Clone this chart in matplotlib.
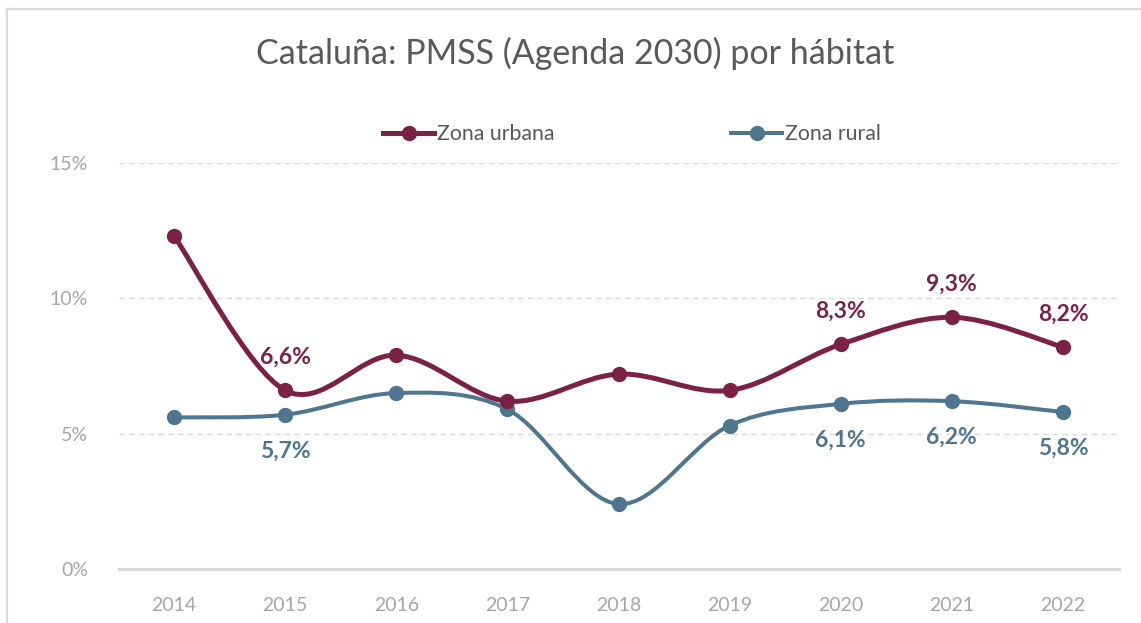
"""Cataluña: PMSS (Agenda 2030) por hábitat - smoothed line chart."""

import matplotlib

matplotlib.use("Agg")
import matplotlib.pyplot as plt
import numpy as np
from matplotlib.lines import Line2D
from matplotlib.patches import PathPatch
from matplotlib.path import Path
from matplotlib.ticker import FuncFormatter, MultipleLocator

years = ["2014", "2015", "2016", "2017", "2018", "2019", "2020", "2021", "2022"]
urbana = [12.3, 6.6, 7.9, 6.2, 7.2, 6.6, 8.3, 9.3, 8.2]
rural = [5.6, 5.7, 6.5, 5.9, 2.4, 5.3, 6.1, 6.2, 5.8]
# indices of points that carry a data label
urbana_labels = [1, 6, 7, 8]
rural_labels = [1, 6, 7, 8]

title = "Cataluña: PMSS (Agenda 2030) por hábitat"
names = ["Zona urbana", "Zona rural"]
c_urb = "#7c2146"
c_rur = "#4e768f"
font = ["Lato", "DejaVu Sans"]
plt.rcParams["font.family"] = font


def smooth_path(xs, ys):
    # Excel style smoothed line: cubic Bezier segments, Catmull-Rom controls
    pts = np.column_stack([xs, ys]).astype(float)
    padded = np.vstack([pts[0], pts, pts[-1]])
    verts = [pts[0]]
    codes = [Path.MOVETO]
    for i in range(len(pts) - 1):
        p0, p1, p2, p3 = padded[i], padded[i + 1], padded[i + 2], padded[i + 3]
        verts += [p1 + (p2 - p0) / 6.0, p2 - (p3 - p1) / 6.0, p2]
        codes += [Path.CURVE4] * 3
    return Path(verts, codes)


fig = plt.figure(figsize=(11.41, 6.23), dpi=100)
ax = fig.add_axes([118.5 / 1141, 54 / 623, 1000 / 1141, 406 / 623])

# outer chart frame (only left and top edges show in the crop)
fig.add_artist(Line2D([7 / 1141, 7 / 1141], [0, 1 - 9 / 623], transform=fig.transFigure,
                      color="#d9d9d9", lw=1.6))
fig.add_artist(Line2D([7 / 1141, 1], [1 - 9 / 623, 1 - 9 / 623], transform=fig.transFigure,
                      color="#d9d9d9", lw=1.6))

x = np.arange(len(years))
for vals, color, lw in [(rural, c_rur, 2.9), (urbana, c_urb, 3.6)]:
    y = np.array(vals) / 100
    ax.add_patch(PathPatch(smooth_path(x, y), fill=False, edgecolor=color, lw=lw,
                           capstyle="round", joinstyle="round", zorder=3))
    ax.plot(x, y, "o", color=color, markersize=10, zorder=4)

for i in urbana_labels:
    ax.annotate(f"{urbana[i]:.1f}%".replace(".", ","), (x[i], urbana[i] / 100),
                xytext=(0, 24), textcoords="offset points", ha="center", va="center",
                fontsize=16.5, fontweight="bold", color=c_urb)
for i in rural_labels:
    ax.annotate(f"{rural[i]:.1f}%".replace(".", ","), (x[i], rural[i] / 100),
                xytext=(0, -26), textcoords="offset points", ha="center", va="center",
                fontsize=16.5, fontweight="bold", color=c_rur)

ax.set_xlim(-0.5, len(years) - 0.5)
ax.set_ylim(0, 0.15)
ax.set_xticks(x)
ax.set_xticklabels(years)
ax.yaxis.set_major_locator(MultipleLocator(0.05))
ax.yaxis.set_major_formatter(FuncFormatter(lambda v, _: f"{v * 100:.0f}%"))
ax.tick_params(axis="both", length=0, labelsize=14, labelcolor="#a6a6a6")
ax.tick_params(axis="x", pad=20)
ax.tick_params(axis="y", pad=22)
ax.grid(axis="y", color="#d9d9d9", lw=1.0, linestyle=(0, (4, 3)))
ax.set_axisbelow(True)
for side in ["left", "right", "top"]:
    ax.spines[side].set_visible(False)
ax.spines["bottom"].set_color("#d9d9d9")
ax.spines["bottom"].set_linewidth(2.2)
ax.spines["bottom"].set_zorder(2)

fig.text(575 / 1141, 1 - 53 / 623, title, ha="center", va="center", fontsize=24.5,
         color="#595959")

handles = [
    Line2D([], [], color=c_urb, lw=3.6, marker="o", markersize=10),
    Line2D([], [], color=c_rur, lw=2.9, marker="o", markersize=10),
]
fig.legend(handles, names, loc="center left", bbox_to_anchor=(383 / 1141, 1 - 134 / 623),
           ncol=2, frameon=False, fontsize=15.3, labelcolor="#595959", handlelength=2.4,
           handletextpad=0.15, columnspacing=8.3, borderpad=0, borderaxespad=0)

fig.savefig("out.png", dpi=100)
plt.close(fig)
